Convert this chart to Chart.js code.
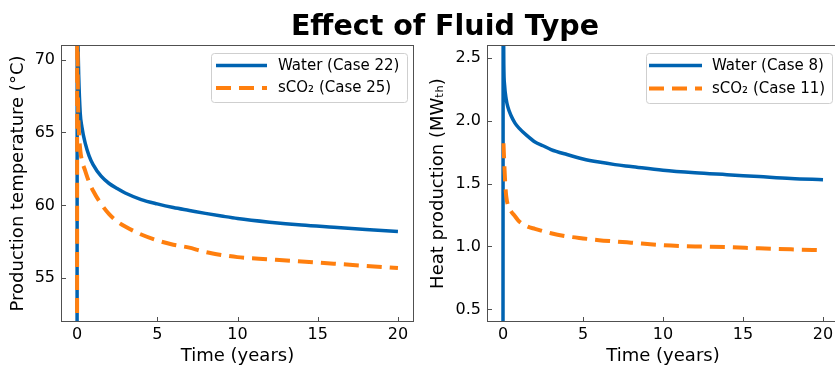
<!DOCTYPE html>
<html>
<head>
<meta charset="utf-8">
<script src="https://cdn.jsdelivr.net/npm/chart.js@4.4.1/dist/chart.umd.min.js"></script>
<style>
  html, body { margin: 0; padding: 0; background: #fff; }
  body { width: 835px; height: 371px; overflow: hidden; position: relative; }
  #title {
    position: absolute; left: 0; top: 12px; width: 890px;
    text-align: center; white-space: nowrap; z-index: 2;
    font: bold 28.5px "DejaVu Sans"; line-height: 28.5px; color: #000;
  }
  #c1 { position: absolute; left: 0; top: 0; }
  #c2 { position: absolute; left: 420px; top: 0; }
</style>
</head>
<body>
<div id="title">Effect of Fluid Type</div>
<canvas id="c1" width="420" height="371"></canvas>
<canvas id="c2" width="440" height="371"></canvas>
<script>
// ---- Production temperature (°C) vs time (years)
const waterTempTime = [0, 0.01, 0.05, 0.1, 0.2, 0.3, 0.5, 0.75, 1, 1.5, 2, 2.5, 3, 4, 5, 6, 7, 8, 9, 10, 12, 14, 16, 18, 20];
const waterTemp     = [40, 75, 71.5, 69.0, 66.3, 65.4, 64.3, 63.4, 62.8, 62.0, 61.5, 61.15, 60.85, 60.4, 60.1, 59.85, 59.65, 59.45, 59.27, 59.1, 58.85, 58.65, 58.5, 58.35, 58.2];

const sco2TempTime  = [0, 0.01, 0.05, 0.1, 0.2, 0.3, 0.5, 0.75, 1, 1.5, 2, 2.5, 3, 4, 5, 6, 7, 7.5, 8, 9, 10, 12, 14, 16, 18, 20];
const sco2Temp      = [40, 75, 68.0, 65.5, 63.8, 63.1, 62.4, 61.6, 61.0, 60.1, 59.4, 58.9, 58.55, 58.0, 57.6, 57.3, 57.1, 56.95, 56.8, 56.6, 56.45, 56.3, 56.15, 56.0, 55.85, 55.7];

// ---- Heat production (MWth) vs time (years)
const waterHeatTime = [0, 0.01, 0.05, 0.1, 0.2, 0.3, 0.5, 0.75, 1, 1.5, 2, 2.5, 3, 4, 5, 6, 7, 8, 10, 12, 14, 16, 18, 20];
const waterHeat     = [0, 3.2, 2.45, 2.28, 2.17, 2.11, 2.04, 1.98, 1.94, 1.88, 1.83, 1.8, 1.77, 1.73, 1.695, 1.67, 1.65, 1.635, 1.605, 1.585, 1.57, 1.555, 1.54, 1.53];

const sco2HeatTime  = [0.03, 0.06, 0.1, 0.15, 0.2, 0.3, 0.5, 0.75, 1, 1.5, 2, 3, 4, 5, 6, 7, 8, 10, 12, 14, 16, 18, 20];
const sco2Heat      = [1.82, 1.72, 1.6, 1.48, 1.4, 1.33, 1.28, 1.24, 1.2, 1.16, 1.14, 1.105, 1.08, 1.064, 1.05, 1.04, 1.03, 1.01, 1.0, 0.995, 0.985, 0.977, 0.97];

// ---- Axis ticks
const timeTicks = [0, 5, 10, 15, 20];
const tempTicks = [55, 60, 65, 70];
const heatTicks = [0.5, 1.0, 1.5, 2.0, 2.5];

const BLUE = '#0063b1';
const ORANGE = '#ff7f0e';
const FRAME = '#505050';
const FONT = 'DejaVu Sans';

const toPoints = (xs, ys) => xs.map((x, i) => ({ x, y: ys[i] }));

// Inward tick marks (under the data) and a closed frame around the plot area (over it)
const frameTicks = {
  id: 'frameTicks',
  beforeDatasetsDraw(chart) {
    const { ctx, chartArea: a, scales: { x, y } } = chart;
    ctx.save();
    ctx.strokeStyle = FRAME;
    ctx.lineWidth = 1;
    ctx.beginPath();
    x.ticks.forEach(t => {
      const px = Math.round(x.getPixelForValue(t.value)) + 0.5;
      ctx.moveTo(px, a.bottom); ctx.lineTo(px, a.bottom - 5);
    });
    y.ticks.forEach(t => {
      const py = Math.round(y.getPixelForValue(t.value)) + 0.5;
      ctx.moveTo(a.left, py); ctx.lineTo(a.left + 5, py);
    });
    ctx.stroke();
    ctx.restore();
  },
  afterDatasetsDraw(chart) {
    const { ctx, chartArea: a } = chart;
    ctx.save();
    ctx.strokeStyle = FRAME;
    ctx.lineWidth = 1;
    ctx.strokeRect(Math.round(a.left) + 0.5, Math.round(a.top) + 0.5,
                   Math.round(a.width) - 1, Math.round(a.height) - 1);
    ctx.restore();
  }
};

// Boxed legend in the upper right of the plot area
const boxLegend = {
  id: 'boxLegend',
  afterDraw(chart, args, opts) {
    const { ctx } = chart;
    const b = opts.box;
    ctx.save();
    ctx.beginPath();
    ctx.roundRect(b.x + 0.5, b.y + 0.5, b.w, b.h, 3);
    ctx.fillStyle = 'rgba(255,255,255,0.85)';
    ctx.fill();
    ctx.strokeStyle = '#cfcfcf';
    ctx.lineWidth = 1;
    ctx.stroke();
    chart.data.datasets.slice().sort((p, q) => p.legendRank - q.legendRank).forEach((ds, i) => {
      const yy = b.y + opts.rowY[i];
      ctx.beginPath();
      ctx.setLineDash(ds.borderDash || []);
      ctx.lineDashOffset = 0;
      ctx.strokeStyle = ds.borderColor;
      ctx.lineWidth = ds.borderWidth;
      ctx.lineCap = 'butt';
      ctx.moveTo(b.x + opts.lineX0, yy);
      ctx.lineTo(b.x + opts.lineX1, yy);
      ctx.stroke();
      ctx.setLineDash([]);
      ctx.fillStyle = '#000';
      ctx.font = '15px "' + FONT + '"';
      ctx.textBaseline = 'middle';
      ctx.textAlign = 'left';
      ctx.fillText(ds.label, b.x + opts.textX, yy + 0.5);
    });
    ctx.restore();
  }
};

function makeChart(id, cfg) {
  return new Chart(document.getElementById(id), {
    type: 'line',
    data: {
      datasets: [
        {
          label: cfg.waterLabel, legendRank: 0, order: 2,
          data: toPoints(cfg.wx, cfg.wy),
          borderColor: BLUE, borderWidth: 3.5,
        },
        {
          label: cfg.sco2Label, legendRank: 1, order: 1,
          data: toPoints(cfg.sx, cfg.sy),
          borderColor: ORANGE, borderWidth: 4, borderDash: [15, 8],
        }
      ].map(d => Object.assign(d, {
        pointRadius: 0, fill: false, cubicInterpolationMode: 'monotone',
        borderCapStyle: 'butt', borderJoinStyle: 'round'
      }))
    },
    options: {
      responsive: false,
      animation: false,
      events: [],
      layout: { padding: { top: 45, right: cfg.padRight, bottom: 0, left: 0 } },
      plugins: {
        legend: { display: false },
        tooltip: { enabled: false },
        boxLegend: cfg.legend
      },
      scales: {
        x: {
          type: 'linear', min: -1, max: 21,
          grid: { display: false, drawTicks: false },
          border: { display: false },
          afterBuildTicks: s => { s.ticks = timeTicks.map(v => ({ value: v })); },
          afterFit: s => { s.height = 49; },
          ticks: { font: { family: FONT, size: 16 }, color: '#000', padding: 3, maxRotation: 0, autoSkip: false },
          title: { display: true, text: 'Time (years)', color: '#000',
                   font: { family: FONT, size: 18 }, padding: { top: 0, bottom: 4 } }
        },
        y: {
          type: 'linear', min: cfg.ymin, max: cfg.ymax,
          grid: { display: false, drawTicks: false },
          border: { display: false },
          afterBuildTicks: s => { s.ticks = cfg.yTicks.map(v => ({ value: v })); },
          afterFit: s => { s.width = cfg.yWidth; },
          ticks: { font: { family: FONT, size: 16 }, color: '#000', padding: 6, autoSkip: false,
                   callback: cfg.fmt },
          title: { display: true, text: cfg.yTitle, color: '#000',
                   font: { family: FONT, size: 18 }, padding: { top: cfg.yTitlePad, bottom: 0 } }
        }
      }
    },
    plugins: [frameTicks, boxLegend]
  });
}

makeChart('c1', {
  wx: waterTempTime, wy: waterTemp, sx: sco2TempTime, sy: sco2Temp,
  waterLabel: 'Water (Case 22)', sco2Label: 'sCO\u2082 (Case 25)',
  ymin: 52, ymax: 71, yTicks: tempTicks, fmt: v => String(v),
  yTitle: 'Production temperature (°C)', yWidth: 61, yTitlePad: 8, padRight: 6,
  legend: { box: { x: 211, y: 53, w: 196, h: 49 }, rowY: [12.5, 35], lineX0: 5, lineX1: 56, textX: 67 }
});

makeChart('c2', {
  wx: waterHeatTime, wy: waterHeat, sx: sco2HeatTime, sy: sco2Heat,
  waterLabel: 'Water (Case 8)', sco2Label: 'sCO\u2082 (Case 11)',
  ymin: 0.4, ymax: 2.6, yTicks: heatTicks, fmt: v => v.toFixed(1),
  yTitle: 'Heat production (MW\u209C\u2095)', yWidth: 67, yTitlePad: 8, padRight: 21,
  legend: { box: { x: 226, y: 53, w: 186, h: 50 }, rowY: [12.5, 35.5], lineX0: 3, lineX1: 56, textX: 66 }
});
</script>
</body>
</html>
